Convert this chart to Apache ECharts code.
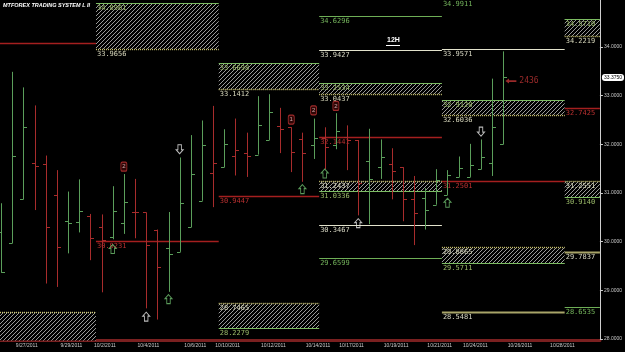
<!DOCTYPE html>
<html><head><meta charset="utf-8">
<script src="https://cdn.jsdelivr.net/npm/echarts@6/dist/echarts.min.js"></script>
<style>html,body{margin:0;padding:0;background:#000;}#c{width:625px;height:352px;}</style>
</head><body><div id="c"></div>
<script>
// ---- OHLC bars (12H), first bar index is -1 (partially hidden) ----
const firstIndex = -1;
const opens  = [30.20,29.97,30.87,31.61,31.59,30.95,30.43,30.40,30.53,30.30,30.10,30.39,30.60,30.60,30.25,29.86,29.79,30.30,30.84,31.42,31.53,31.77,31.82,31.79,32.09,32.38,32.35,32.10,31.98,32.14,31.98,32.16,32.09,31.66,31.53,31.60,31.53,30.87,30.89,30.76,30.96,31.33,31.33,31.49,31.62,32.00];
const highs  = [30.79,33.49,33.17,32.80,31.77,31.47,31.03,31.28,30.57,30.56,31.14,31.39,31.29,30.60,30.25,30.61,31.73,32.19,32.49,32.79,32.31,32.53,32.24,32.99,33.03,32.75,32.35,32.24,32.53,32.35,32.64,32.39,32.09,32.32,32.10,31.92,31.53,31.35,31.10,31.49,31.47,31.75,32.01,32.10,33.35,33.91];
const lows   = [29.36,29.97,30.87,30.65,29.14,29.07,29.76,30.19,29.62,28.96,30.05,30.16,30.07,28.63,28.40,28.97,29.79,30.30,30.84,30.71,31.53,31.36,31.33,31.79,32.09,31.82,31.43,31.23,31.70,31.49,31.90,31.47,30.54,30.36,31.29,30.87,30.42,29.93,30.25,30.76,30.96,31.33,31.33,31.49,31.35,32.00];
const closes = [29.38,31.77,32.36,31.55,30.31,29.90,30.38,30.64,30.08,30.03,30.64,30.82,30.62,29.93,29.47,29.75,30.79,31.40,31.98,31.62,32.01,31.88,31.76,32.39,32.66,32.32,31.84,31.82,32.14,31.95,32.28,32.09,31.20,31.28,31.73,31.45,30.87,30.58,30.65,31.27,31.37,31.51,31.58,31.75,32.36,33.375];

// ---- date axis ----
const dateTicks  = [1.3,5.3,8.3,12.2,16.4,19.3,23.4,27.4,30.4,34.4,38.3,41.5,45.5,49.3];
const dateLabels = ['9/27/2011','9/29/2011','10/2/2011','10/4/2011','10/6/2011','10/10/2011','10/12/2011','10/14/2011','10/17/2011','10/19/2011','10/21/2011','10/24/2011','10/26/2011','10/28/2011'];
const priceTicks = [28,29,30,31,32,33,34];

// ---- level periods (bar-index boundaries) ----
const periodEdges = [-1.1, 7.5, 18.5, 27.5, 38.5, 49.5, 52.66];
// zones
const zonePeriod = [0, 1, 2, 2, 3, 3, 4, 4, 5, 5];
const zoneHigh   = [28.5481, 34.8961, 33.6698, 28.7465, 33.2534, 31.2437, 32.9120, 29.8865, 34.5710, 31.2551];
const zoneLow    = [27.9000, 33.9656, 33.1412, 28.2279, 33.0437, 31.0336, 32.6036, 29.5711, 34.2219, 30.9140];
const zoneType   = ['S','R','R','S','R','S','R','S','R','S'];
// single lines
const linePeriod = [0, 1, 2, 3, 3, 3, 3, 3, 4, 4, 4, 4, 5, 5, 5];
const lineValue  = [34.0880, 30.0231, 30.9447, 34.6296, 33.9427, 32.1441, 30.3467, 29.6599, 34.9911, 33.9571, 31.2501, 28.5481, 32.7425, 29.7837, 28.6535];
const lineType   = ['pivot','pivot','pivot','green','white','pivot','white','green','green','white','pivot','olive','pivot','olive','green'];

// ---- signals ----
const sellIdx = [15, 42];            const sellPrice = [31.90, 32.26];
const buyIdx = [12, 31];             const buyPrice = [28.46, 30.38];
const entryIdx = [9, 14, 26, 28, 39]; const entryPrice = [29.85, 28.82, 31.08, 31.40, 30.80];
const countIdx = [10, 25, 27, 29];   const countPrice = [31.54, 32.51, 32.70, 32.79]; const countNum = ['2','1','2','2'];
const pipsIdx = [44.68];             const pipsPrice = [33.30]; const pipsText = ['2436'];

// ---------------------------------------------------------------
const GREEN = '#5a9e5a', RED = '#a82c2c';
const LSTYLE = {
  pivot: {c:'#a41f1f', w:1.3, label:'#b83030'},
  green: {c:'#6eae56', w:1.1, label:'#74b45c'},
  white: {c:'#e2e2cc', w:1.1, label:'#d8d8c4'},
  olive: {c:'#a8a468', w:1.8, label:'#d8d8c4'}
};
const EDGE = {
  green: {c:'#7cbc62', w:1.2, dash:null, label:'#9cbc6a'},
  yellow:{c:'#cfc872', w:1.4, dash:[1,1], label:'#d8d8bc'}
};
const LFONT = '7px "DejaVu Sans Mono"';
const xMin = periodEdges[0], xMax = periodEdges[periodEdges.length-1];

const pat = document.createElement('canvas'); pat.width = 4; pat.height = 4;
(function(){const g = pat.getContext('2d'); g.fillStyle = '#000'; g.fillRect(0,0,4,4);
 g.strokeStyle = '#9a9a9a'; g.lineWidth = 1; g.beginPath();
 g.moveTo(0,4); g.lineTo(4,0); g.moveTo(-1,1); g.lineTo(1,-1); g.moveTo(3,5); g.lineTo(5,3); g.stroke();})();

const barData = opens.map((o,k)=>[firstIndex+k, o, highs[k], lows[k], closes[k], (k===0 || closes[k] >= closes[k-1]) ? 1 : 0]);
const lineData = lineValue.map((v,k)=>[periodEdges[linePeriod[k]], periodEdges[linePeriod[k]+1], v, k]);
const zoneData = zoneHigh.map((v,k)=>[periodEdges[zonePeriod[k]], periodEdges[zonePeriod[k]+1], v, zoneLow[k], k]);
const lastClose = closes[closes.length-1];

function crisp(y){ return Math.round(y) + 0.5; }
function clampY(y, cs){ return Math.max(cs.y, Math.min(cs.y + cs.height, y)); }

function renderBar(params, api){
  const i = api.value(0);
  const ph = api.coord([i, api.value(2)]), pl = api.coord([i, api.value(3)]);
  const po = api.coord([i, api.value(1)]), pc = api.coord([i, api.value(4)]);
  const col = api.value(5) ? GREEN : RED;
  const x = Math.round(ph[0]) + 0.5;
  return {type:'group', children:[
    {type:'line', shape:{x1:x, y1:ph[1], x2:x, y2:pl[1]}, style:{stroke:col, lineWidth:1}},
    {type:'line', shape:{x1:x-3.5, y1:crisp(po[1]), x2:x, y2:crisp(po[1])}, style:{stroke:col, lineWidth:1}},
    {type:'line', shape:{x1:x, y1:crisp(pc[1]), x2:x+3.5, y2:crisp(pc[1])}, style:{stroke:col, lineWidth:1}}
  ]};
}

function renderLine(params, api){
  const k = api.value(3), v = api.value(2);
  const p0 = api.coord([api.value(0), v]), p1 = api.coord([api.value(1), v]);
  const st = LSTYLE[lineType[k]];
  const y = crisp(p0[1]);
  const ch = [{type:'line', shape:{x1:p0[0], y1:y, x2:p1[0], y2:y}, style:{stroke:st.c, lineWidth:st.w}}];
  if (api.value(0) > xMin) ch.push({type:'text', x:p0[0]+1, y:y+1.5,
      style:{text:v.toFixed(4), fill:st.label, font:LFONT, align:'left', verticalAlign:'top'}});
  return {type:'group', children:ch};
}

function renderZone(params, api){
  const k = api.value(4), hi = api.value(2), lo = api.value(3);
  const cs = params.coordSys;
  const a = api.coord([api.value(0), hi]), b = api.coord([api.value(1), lo]);
  const yt = crisp(a[1]), yb = crisp(clampY(b[1], cs));
  const topE = zoneType[k] === 'R' ? EDGE.green : EDGE.yellow;
  const botE = zoneType[k] === 'R' ? EDGE.yellow : EDGE.green;
  const ch = [
    {type:'rect', shape:{x:a[0], y:yt, width:b[0]-a[0], height:yb-yt}, style:{fill:{image:pat, repeat:'repeat'}}},
    {type:'line', shape:{x1:a[0], y1:yt, x2:b[0], y2:yt}, style:{stroke:topE.c, lineWidth:topE.w, lineDash:topE.dash}}
  ];
  if (b[1] <= cs.y + cs.height) ch.push({type:'line', shape:{x1:a[0], y1:yb, x2:b[0], y2:yb}, style:{stroke:botE.c, lineWidth:botE.w, lineDash:botE.dash}});
  if (api.value(0) > xMin){
    ch.push({type:'text', x:a[0]+1, y:yt+1.5, style:{text:hi.toFixed(4), fill:topE.label, font:LFONT, align:'left', verticalAlign:'top'}});
    ch.push({type:'text', x:a[0]+1, y:yb+1.5, style:{text:lo.toFixed(4), fill:botE.label, font:LFONT, align:'left', verticalAlign:'top'}});
  }
  return {type:'group', children:ch};
}

const UP = 'path://M4,0 L8,4 L6,4 L6,9 L2,9 L2,4 L0,4 Z';
const LEFT = 'path://M0,3 L4,0 L4,2 L12,2 L12,4 L4,4 L4,6 Z';

const chart = echarts.init(document.getElementById('c'));
chart.setOption({
  backgroundColor:'#000',
  animation:false,
  title:[
    {text:'MTFOREX TRADING SYSTEM L II', left:3, top:2, padding:0,
     textStyle:{color:'#fff', fontSize:5.5, fontWeight:'bold', fontStyle:'italic', fontFamily:'Liberation Sans'}},
    {text:'12H', left:387, top:37, padding:0,
     textStyle:{color:'#fff', fontSize:7, fontWeight:'bold', fontFamily:'Liberation Sans'}}
  ],
  graphic:[{type:'line', shape:{x1:386, y1:45.5, x2:400, y2:45.5}, style:{stroke:'#fff', lineWidth:1}}],
  grid:{left:0, right:25, top:0, bottom:12, containLabel:false},
  xAxis:{type:'value', min:xMin, max:xMax, splitLine:{show:false},
    axisLine:{show:true, onZero:false, lineStyle:{color:'#7a2020', width:3}},
    axisTick:{show:false},
    axisLabel:{customValues:dateTicks, color:'#c8c8c8', fontSize:5, margin:3, fontFamily:'Liberation Sans',
      formatter:v=>{const k = dateTicks.findIndex(t=>Math.abs(t-v)<1e-6); return k>=0 ? dateLabels[k] : '';}}},
  yAxis:{type:'value', position:'right', min:27.98, max:34.9657, splitLine:{show:false},
    axisLine:{show:true, onZero:false, lineStyle:{color:'#cfcfcf', width:1}},
    axisTick:{show:true, customValues:priceTicks, length:3, lineStyle:{color:'#cfcfcf'}},
    axisLabel:{customValues:priceTicks, color:'#c8c8c8', fontSize:5, margin:4, fontFamily:'Liberation Sans',
      formatter:v=>v.toFixed(4)},
    axisPointer:{show:true, value:lastClose, status:'show', triggerTooltip:false, type:'line',
      lineStyle:{opacity:0},
      label:{show:true, formatter:p=>Number(p.value).toFixed(4), backgroundColor:'#ffffff', color:'#000',
        fontSize:5, padding:[1,2], margin:2, fontFamily:'Liberation Sans'}}},
  axisPointer:{triggerOn:'none'},
  series:[
    {type:'custom', name:'zones', renderItem:renderZone, data:zoneData, z:1, silent:true},
    {type:'custom', name:'levels', renderItem:renderLine, data:lineData, z:2, silent:true},
    {type:'custom', name:'bars', renderItem:renderBar, data:barData, z:3, silent:true, clip:true},
    {type:'scatter', name:'sell', data:sellIdx.map((x,k)=>[x, sellPrice[k]]), symbol:UP, symbolRotate:180,
      symbolSize:[7,9], itemStyle:{color:'rgba(0,0,0,0)', borderColor:'#e8e8e8', borderWidth:1}, z:5},
    {type:'scatter', name:'buy', data:buyIdx.map((x,k)=>[x, buyPrice[k]]), symbol:UP,
      symbolSize:[7,9], itemStyle:{color:'rgba(0,0,0,0)', borderColor:'#e8e8e8', borderWidth:1}, z:5},
    {type:'scatter', name:'entry', data:entryIdx.map((x,k)=>[x, entryPrice[k]]), symbol:UP,
      symbolSize:[7,9], itemStyle:{color:'rgba(0,0,0,0)', borderColor:'#70c070', borderWidth:1}, z:5},
    {type:'scatter', name:'count', data:countIdx.map((x,k)=>[x, countPrice[k], countNum[k]]), symbol:'roundRect',
      symbolSize:[6,9], itemStyle:{color:'#3a0808', borderColor:'#c03434', borderWidth:1}, z:5,
      label:{show:true, position:'inside', formatter:p=>p.value[2], color:'#f0c8c8', fontSize:6, fontFamily:'Liberation Sans'}},
    {type:'scatter', name:'pips', data:pipsIdx.map((x,k)=>[x, pipsPrice[k], pipsText[k]]), symbol:LEFT,
      symbolSize:[11,5], itemStyle:{color:'#c03434'}, z:5,
      label:{show:true, position:'right', distance:3, formatter:p=>p.value[2], color:'#c03434', fontSize:8, fontFamily:'DejaVu Sans Mono'}}
  ]
});
</script></body></html>
